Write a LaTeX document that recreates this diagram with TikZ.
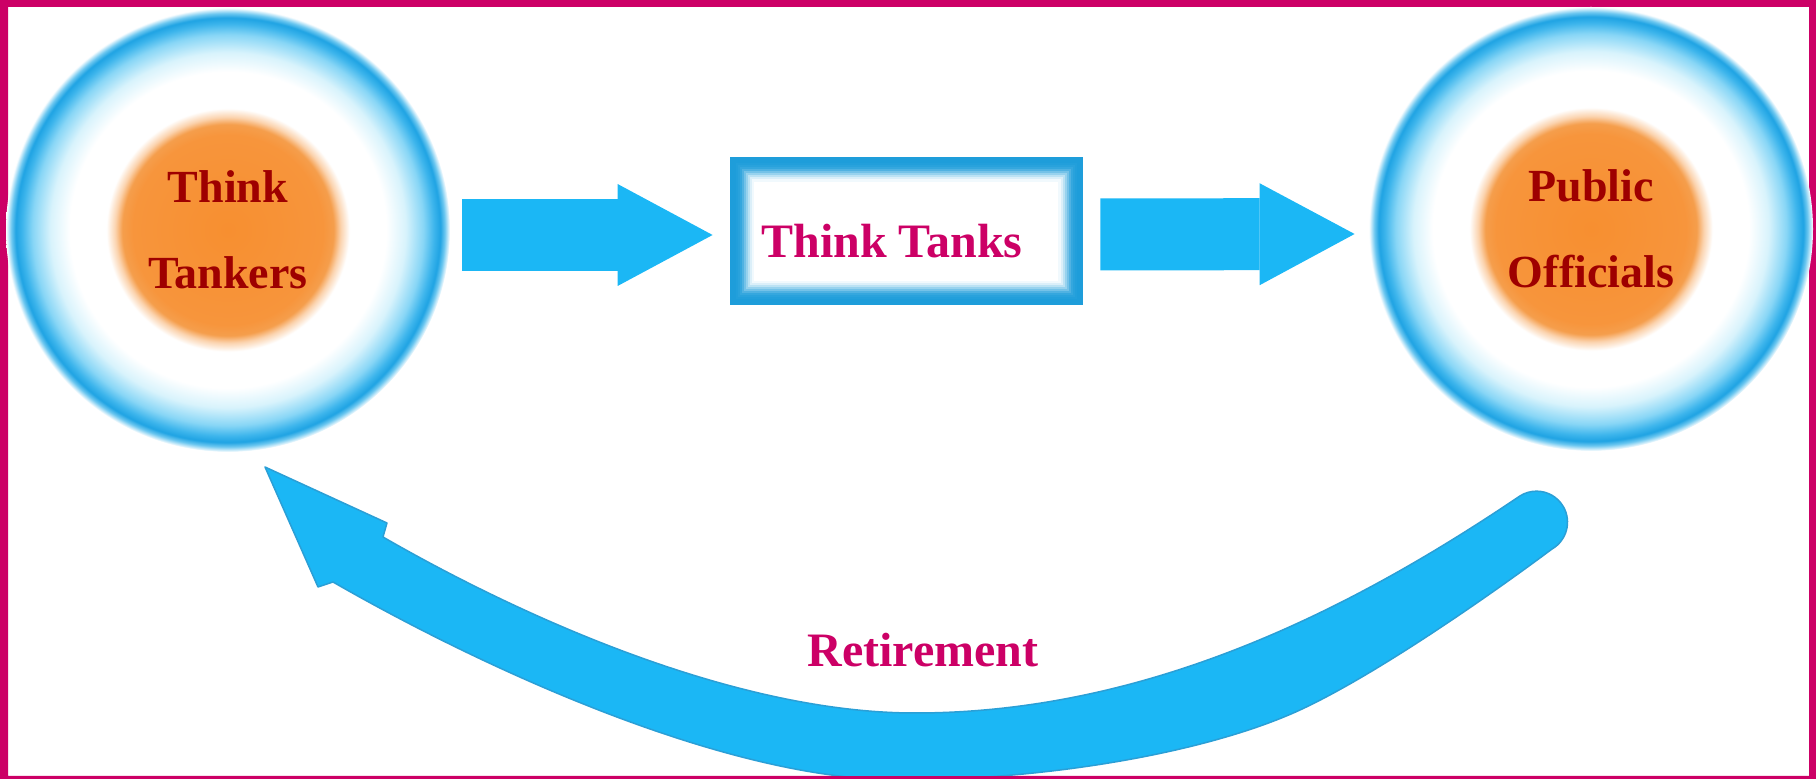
\documentclass[tikz,border=0pt]{standalone}
\usepackage{fontspec}
\setmainfont{Liberation Serif}
\usetikzlibrary{arrows.meta,calc}

\definecolor{framepink}{HTML}{CC0066}
\definecolor{namered}{HTML}{9E0000}
\definecolor{arrowblue}{HTML}{1BB7F5}
\definecolor{arrowedge}{HTML}{2B9FD6}
\definecolor{boxblue}{HTML}{1E9DDA}
\definecolor{ringblue}{HTML}{1FA3E3}
\definecolor{ringlight}{HTML}{3DB5EC}
\definecolor{ringmid}{HTML}{88D6F6}
\definecolor{ringpale}{HTML}{D8F3FC}
\definecolor{ringrim}{HTML}{6CC7F0}
\definecolor{orangein}{HTML}{F78F30}
\definecolor{orangemid}{HTML}{F7953C}
\definecolor{orangeout}{HTML}{F59E4C}
\definecolor{orangefade}{HTML}{FBD3AE}

\pgfdeclareradialshading{ringshade}{\pgfpointorigin}{%
  color(0bp)=(orangein); color(10.7bp)=(orangemid); color(11.9bp)=(orangeout);
  color(12.7bp)=(orangefade); color(13.7bp)=(white); color(17.8bp)=(white);
  color(20bp)=(ringpale); color(22bp)=(ringmid); color(23.2bp)=(ringlight);
  color(23.9bp)=(ringblue); color(24.4bp)=(ringrim); color(25bp)=(white);
  color(50bp)=(white)}

\tikzset{
  ring/.style={circle,minimum size=222pt,inner sep=0pt,shading=ringshade,
    align=center,text=namered,font=\fontsize{23}{43}\selectfont\bfseries},
  tankbox/.style={rectangle,minimum width=176pt,minimum height=73.5pt,inner sep=0pt,fill=white},
  pinklabel/.style={text=framepink,font=\fontsize{24}{28}\selectfont\bfseries,inner sep=0pt},
  blockarrow/.style={draw=arrowblue,line width=36pt,
    -{Triangle[length=47.5pt,width=51pt,line width=0pt]}},
  retarrow/.style={fill=arrowblue,draw=arrowedge,line width=0.75pt,line join=round},
}

\begin{document}
\begin{tikzpicture}[x=0.5pt,y=-0.5pt]
	\useasboundingbox (0,0) rectangle (1816,779);
	% page frame
	\fill[framepink,even odd rule] (0,0) rectangle (1816,779) (8,7) rectangle (1809,776);
	% the two rings
	\node[ring] (tankers) at (228,230) {Think\\Tankers};
	\node[ring] (officials) at (1591,229) {Public\\Officials};
	% middle box, bevelled frame
	\node[tankbox] (tanks) at (906,231.5) {};
	\foreach \k/\m in {0/100,1/100,2/100,3/98,4/95,5/90,6/78,7/62,8/46,9/30,10/16,11/6}
		\draw[boxblue!\m!white,line width=1.1pt] ($(tanks.north west)+(2*\k+1,2*\k+1)$) rectangle ($(tanks.south east)-(2*\k+1,2*\k+1)$);
	\node[pinklabel] (tankstext) at ($(tanks.center)+(-14,10)$) {Think Tanks};
	% straight arrows
	\draw[blockarrow] ($(tankers.east)+(12,5)$) -- ($(tanks.west)+(-17,3.5)$);
	\draw[blockarrow] ($(tanks.east)+(18,3)$) -- ($(officials.west)+(-14,5)$);
	% retirement arrow back to the left ring
	\coordinate (retlow) at (333,582);
	\coordinate (retup) at (383,537);
	\coordinate (rettip) at (265,467);
	\coordinate (retbarbup) at (387,523);
	\coordinate (retbarbdown) at (318,587);
	\filldraw[retarrow] (retlow) .. controls (472,662) and (720,780) .. (900,780)
		.. controls (1050,780) and (1209,752) .. (1300,710)
		.. controls (1382,672) and (1504,585) .. (1552,549)
		arc[start angle=60,end angle=-121.6,radius=31]
		.. controls (1354,608) and (1150,713) .. (915,713)
		.. controls (730,713) and (513,612) .. (retup)
		-- (retbarbup) -- (rettip) -- (retbarbdown) -- cycle;
	\node[pinklabel] (retire) at (923,650) {Retirement};
	% frame again on top of the arrow
	\fill[framepink] (0,776) rectangle (1816,779);
\end{tikzpicture}
\end{document}
